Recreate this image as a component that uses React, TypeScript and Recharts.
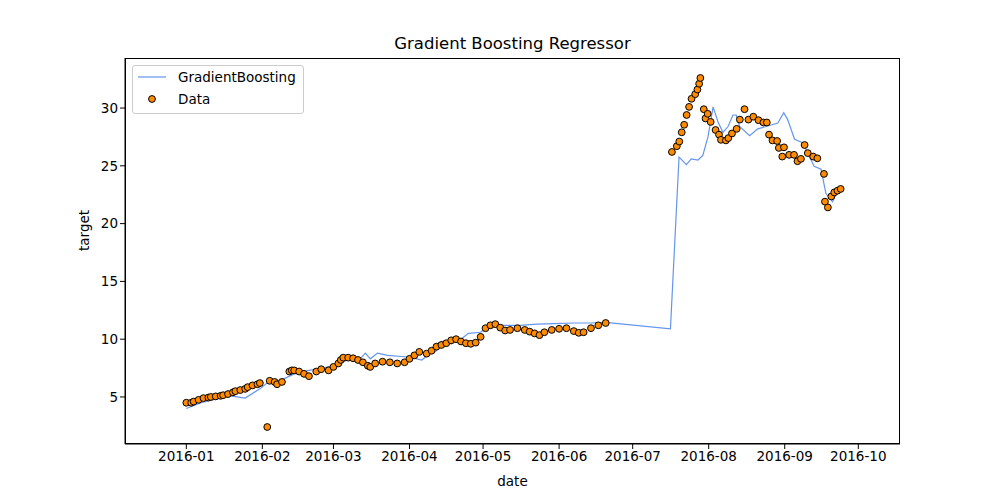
import { ComposedChart, Line, Scatter, XAxis, YAxis } from "recharts";

// x = days since 2016-01-01
const monthTicks = [0, 31, 60, 91, 121, 152, 182, 213, 244, 274];
const monthLabels = ["2016-01", "2016-02", "2016-03", "2016-04", "2016-05", "2016-06", "2016-07", "2016-08", "2016-09", "2016-10"];
const yTicks = [5, 10, 15, 20, 25, 30];

const dataDays = [
  0, 2, 3, 5, 7, 9, 10, 12, 14, 15, 17, 19, 20, 22, 24, 25, 27, 29, 30, 33, 34, 36, 37, 39, 42, 43, 44, 46, 48, 50, 53,
  55, 58, 60, 62, 63, 64, 66, 68, 70, 72, 74,
  75, 77, 80, 83, 86, 89, 91, 93, 95, 98, 100, 102, 104, 106, 108, 110, 112, 114, 116, 118, 120, 122, 124, 126, 128, 130,
  132, 135, 138, 140, 142, 144, 146, 149, 152, 155, 158, 160, 162, 165, 168, 171,
  198, 200, 201, 202, 203, 204, 205, 206, 207.5, 208.4, 209.1, 209.6, 211, 211.7, 212.6, 213.8, 215.8, 217.2, 218, 220,
  221, 222.5, 224.4, 225.7, 227.6, 229.2, 231.2, 233.3, 235.3, 236.7, 237.6, 239, 240.9, 241.6, 243.7, 243, 245.8, 247.8,
  249.2, 250.6, 252.1, 253.4, 255.6, 257.3, 260, 260.4, 261.6, 263, 264.2, 265.5, 266.8,
];
const dataValues = [
  4.5, 4.5, 4.6, 4.75, 4.9, 4.95, 5.0, 5.05, 5.1, 5.15, 5.25, 5.4, 5.5, 5.6, 5.7, 5.85, 6.0, 6.1, 6.2, 2.4, 6.4, 6.3, 6.1,
  6.3, 7.2, 7.3, 7.3, 7.2, 7.0, 6.8, 7.2, 7.4, 7.3, 7.6, 7.9, 8.2,
  8.4, 8.4, 8.35, 8.2, 8.0, 7.7, 7.6, 7.9, 8.05, 8.0, 7.9, 8.0, 8.3, 8.6, 8.9, 8.75, 9.0, 9.35, 9.5, 9.65, 9.9, 10.0, 9.8,
  9.65, 9.6, 9.7, 10.2, 10.95, 11.2, 11.3, 11.0, 10.75, 10.8, 10.95, 10.8, 10.65, 10.5, 10.35, 10.6, 10.8, 10.9, 10.95,
  10.7, 10.55, 10.6, 10.95, 11.2, 11.4,
  26.2, 26.7, 27.1, 27.9, 28.55, 29.4, 30.1, 30.8, 31.2, 31.6, 32.1, 32.6, 29.9, 29.1, 29.5, 28.8, 28.1, 27.7, 27.25, 27.2,
  27.4, 27.8, 28.2, 29.0, 29.9, 29.0, 29.25, 28.95, 28.75, 28.75, 27.7, 27.2, 27.15, 26.55, 26.6, 25.8, 25.95, 25.95,
  25.4, 25.6, 26.8, 26.1, 25.8, 25.65, 24.3, 21.9, 21.4, 22.35, 22.7, 22.85, 23.0,
];

const modelDays = [
  0, 6, 12, 18, 24, 30, 34, 38, 44, 50, 56, 62, 66, 70, 73, 75, 78, 82, 88, 92, 96, 99, 102, 104, 108, 112, 115, 120,
  124, 130, 136, 143, 150, 158, 165, 171, 197.4, 200.9, 203.9, 205.9, 208.6, 210.6, 212.7, 214.8, 216.8, 218.8, 220.9,
  222.9, 224.2, 225.6, 229.7, 233, 236.4, 241.2, 243.6, 245.2, 248, 251.3, 253.4, 256, 258.8, 260.8, 263.5, 265.5,
];
const modelValues = [
  4.0, 4.5, 4.8, 5.1, 4.9, 5.7, 6.4, 6.4, 7.0, 7.3, 7.5, 7.9, 8.2, 8.1, 8.8, 8.3, 8.8, 8.6, 8.5, 8.4, 8.2, 8.7, 9.0,
  9.8, 9.6, 10.0, 10.5, 10.6, 11.2, 11.2, 11.2, 11.3, 11.35, 11.4, 11.4, 11.45, 10.9, 25.75, 25.1, 25.6, 25.5, 25.9,
  27.5, 30.1, 28.8, 27.9, 28.4, 29.4, 29.4, 28.4, 27.6, 28.2, 28.4, 28.7, 29.6, 29.0, 27.3, 27.0, 26.1, 24.95, 24.7,
  22.6, 21.9, 22.8,
];

const dots = dataDays.map((d, i) => ({ day: d, target: dataValues[i] }));
const model = modelDays.map((d, i) => ({ day: d, target: modelValues[i] }));

const font = "'DejaVu Sans', sans-serif";

const Dot = (props: any) => (
  <circle cx={props.cx} cy={props.cy} r={3.4} fill="#ff8c00" stroke="#000" strokeWidth={1} />
);

export default function App() {
  return (
    <div style={{ position: "absolute", left: 0, top: 0, width: 1000, height: 500, fontFamily: font, background: "#fff" }}>
      <div style={{ position: "absolute", top: 34, left: 0, width: 1025, textAlign: "center", fontSize: 16.5 }}>
        Gradient Boosting Regressor
      </div>
      <ComposedChart width={1000} height={500} margin={{ top: 58, right: 100, bottom: 0, left: 75 }}>
        <XAxis
          dataKey="day"
          type="number"
          domain={[-25, 291]}
          ticks={monthTicks}
          tickFormatter={(v: number) => monthLabels[monthTicks.indexOf(v)]}
          height={56}
          stroke="#000"
          tick={{ fill: "#000", fontSize: 13.5, fontFamily: font }}
          tickSize={5}
          allowDataOverflow
          label={{ value: "date", position: "insideBottom", offset: 14, fill: "#000", fontSize: 13.5, fontFamily: font }}
        />
        <YAxis
          dataKey="target"
          type="number"
          domain={[0.93, 34.33]}
          ticks={yTicks}
          width={50}
          stroke="#000"
          tick={{ fill: "#000", fontSize: 13.5, fontFamily: font }}
          tickSize={5}
          allowDataOverflow
          label={{ value: "target", angle: -90, position: "insideLeft", offset: 9, fill: "#000", fontSize: 13.5, fontFamily: font }}
        />
        <Line data={model} dataKey="target" stroke="#6495ed" strokeWidth={1.2} dot={false} isAnimationActive={false} />
        <Scatter data={dots} dataKey="target" shape={<Dot />} isAnimationActive={false} />
      </ComposedChart>
      {/* axes frame */}
      <div
        style={{
          position: "absolute", left: 125, top: 58, width: 775, height: 386, border: "1px solid #000",
          boxSizing: "border-box", pointerEvents: "none",
        }}
      />
      <div
        style={{
          position: "absolute", left: 132, top: 65, width: 170, height: 47, border: "1px solid #ccc",
          borderRadius: 3, background: "#fff", fontSize: 13.5,
        }}
      >
        <div style={{ position: "absolute", left: 5, top: 3, display: "flex", alignItems: "center" }}>
          <svg width={30} height={16}><line x1={0} y1={8} x2={28} y2={8} stroke="#6495ed" strokeWidth={1.2} /></svg>
          <span style={{ marginLeft: 10 }}>GradientBoosting</span>
        </div>
        <div style={{ position: "absolute", left: 5, top: 25, display: "flex", alignItems: "center" }}>
          <svg width={30} height={16}><circle cx={14} cy={8} r={3.4} fill="#ff8c00" stroke="#000" /></svg>
          <span style={{ marginLeft: 10 }}>Data</span>
        </div>
      </div>
    </div>
  );
}
